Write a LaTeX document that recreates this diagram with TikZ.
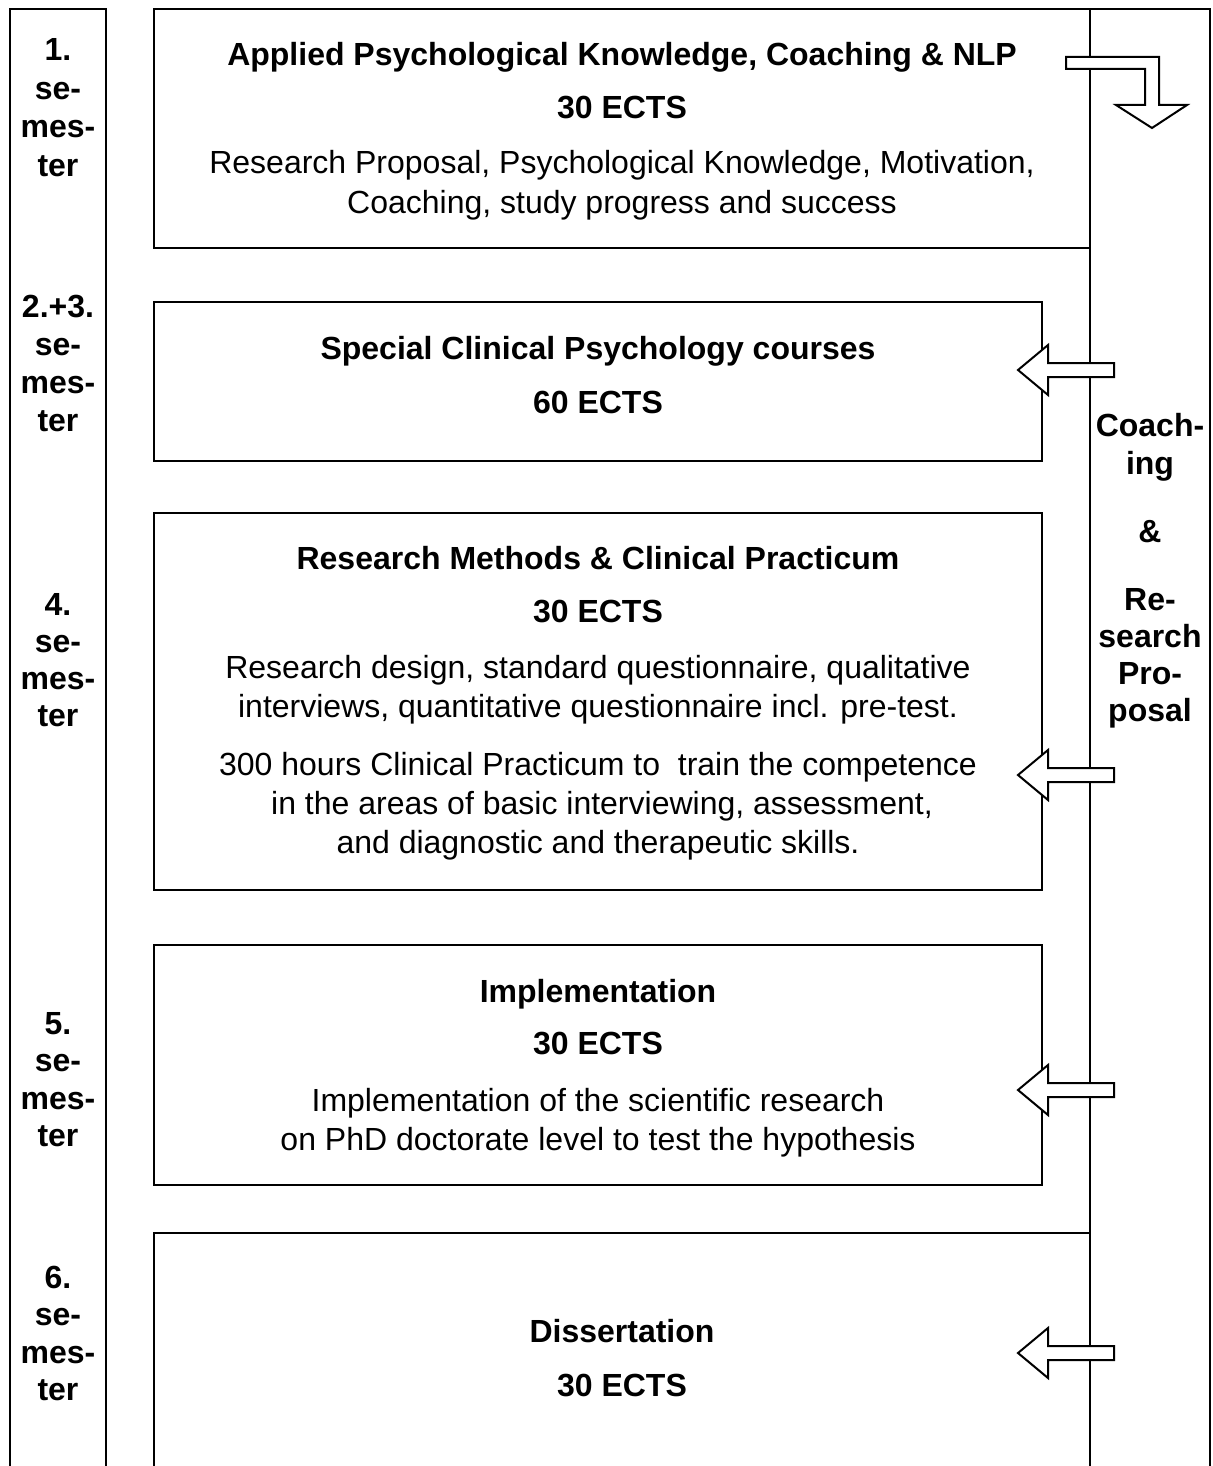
\documentclass[tikz,border=0pt]{standalone}
\usepackage{fontspec}
\setmainfont{Liberation Sans}
\begin{document}
\begin{tikzpicture}[x=0.5pt,y=-0.5pt,line width=1pt,
  frame/.style={draw=black,line width=1pt,inner sep=0pt,outer sep=0pt},
  txt/.style={anchor=base,inner sep=0pt,font=\fontsize{16}{19}\selectfont},
  btxt/.style={anchor=base,inner sep=0pt,font=\fontsize{16}{19}\selectfont\bfseries},
  blockarrow/.style={draw=black,fill=white,line width=1pt,line join=miter}]
\useasboundingbox (0,0) rectangle (1212,1466);
\clip (0,0) rectangle (1212,1466);

% columns and boxes
\node[frame,minimum width=48pt,minimum height=735.5pt] (leftcol) at (58,744.5) {};
\node[frame,minimum width=60pt,minimum height=735.5pt] (rightcol) at (1150,744.5) {};
\node[frame,minimum width=468pt,minimum height=119.5pt] (box1) at (622,128.5) {};
\node[frame,minimum width=444pt,minimum height=79.5pt] (box2) at (598,381.5) {};
\node[frame,minimum width=444pt,minimum height=188.5pt] (box3) at (598,701.5) {};
\node[frame,minimum width=444pt,minimum height=120pt] (box4) at (598,1065) {};
\node[frame,minimum width=468pt,minimum height=123.5pt] (box5) at (622,1356.5) {};

% semester labels
\node[btxt] (s1a) at (58,61) {1.};
\node[btxt] (s1b) at (58,99.5) {se-};
\node[btxt] (s1c) at (58,138) {mes-};
\node[btxt] (s1d) at (58,176.5) {ter};

\node[btxt] (s2a) at (58,317) {2.+3.};
\node[btxt] (s2b) at (58,355) {se-};
\node[btxt] (s2c) at (58,393) {mes-};
\node[btxt] (s2d) at (58,431) {ter};

\node[btxt] (s4a) at (58,615) {4.};
\node[btxt] (s4b) at (58,652.5) {se-};
\node[btxt] (s4c) at (58,689.5) {mes-};
\node[btxt] (s4d) at (58,726.5) {ter};

\node[btxt] (s5a) at (58,1034) {5.};
\node[btxt] (s5b) at (58,1071.5) {se-};
\node[btxt] (s5c) at (58,1109) {mes-};
\node[btxt] (s5d) at (58,1146.5) {ter};

\node[btxt] (s6a) at (58,1288) {6.};
\node[btxt] (s6b) at (58,1325.5) {se-};
\node[btxt] (s6c) at (58,1363) {mes-};
\node[btxt] (s6d) at (58,1400) {ter};

% right column text
\node[btxt] (r1) at (1150,436) {Coach-};
\node[btxt] (r2) at (1150,474) {ing};
\node[btxt] (r3) at (1150,542) {\&};
\node[btxt] (r4) at (1150,610) {Re-};
\node[btxt] (r5) at (1150,647) {search};
\node[btxt] (r6) at (1150,684) {Pro-};
\node[btxt] (r7) at (1150,721) {posal};

% box 1
\node[btxt] (b1t) at (622,66) {Applied Psychological Knowledge, Coaching \& NLP};
\node[btxt] (b1e) at (622,119) {30 ECTS};
\node[txt] (b1l1) at (622,174) {Research Proposal, Psychological Knowledge, Motivation,};
\node[txt] (b1l2) at (622,214) {Coaching, study progress and success};

% box 2
\node[btxt] (b2t) at (598,359) {Special Clinical Psychology courses};
\node[btxt] (b2e) at (598,413) {60 ECTS};

% box 3
\node[btxt] (b3t) at (598,569) {Research Methods \& Clinical Practicum};
\node[btxt] (b3e) at (598,622) {30 ECTS};
\node[txt] (b3l1) at (598,678) {Research design, standard questionnaire, qualitative};
\node[txt] (b3l2) at (598,717) {interviews, quantitative questionnaire incl. pre-test.};
\node[txt] (b3l3) at (598,775) {300 hours Clinical Practicum to\ \ train the competence};
\node[txt] (b3l4) at (602,814) {in the areas of basic interviewing, assessment,};
\node[txt] (b3l5) at (598,853) {and diagnostic and therapeutic skills.};

% box 4
\node[btxt] (b4t) at (598,1002) {Implementation};
\node[btxt] (b4e) at (598,1054) {30 ECTS};
\node[txt] (b4l1) at (598,1111) {Implementation of the scientific research};
\node[txt] (b4l2) at (598,1150) {on PhD doctorate level to test the hypothesis};

% box 5
\node[btxt] (b5t) at (622,1342) {Dissertation};
\node[btxt] (b5e) at (622,1396) {30 ECTS};

% top bent arrow
\draw[blockarrow] (1066,57) -- (1159,57) -- (1159,105) -- (1187,105) -- (1152,128)
  -- (1116,105) -- (1145,105) -- (1145,69) -- (1066,69) -- cycle;

% left-pointing block arrows
\coordinate (a1) at (1018,370);
\coordinate (a2) at (1018,775);
\coordinate (a3) at (1018,1090);
\coordinate (a4) at (1018,1353);
\foreach \a in {a1,a2,a3,a4}{
  \draw[blockarrow] (\a) -- ++(30,-25) -- ++(0,18) -- ++(66,0) -- ++(0,14)
    -- ++(-66,0) -- ++(0,18) -- cycle;
}
\end{tikzpicture}
\end{document}
